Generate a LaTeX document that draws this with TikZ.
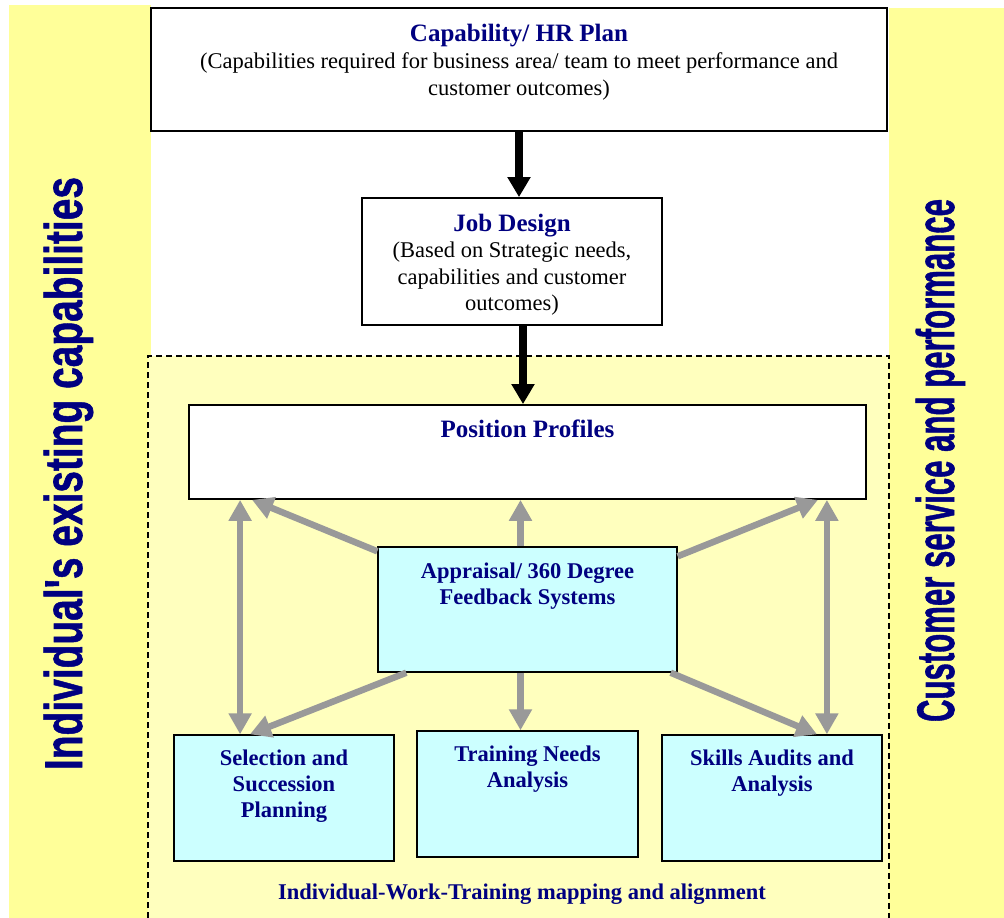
\documentclass[tikz,border=0pt]{standalone}
\usepackage{fontspec}
\setmainfont{Liberation Serif}
\newfontfamily\sidefont{Liberation Sans}[BoldFeatures={FakeBold=1.2}]
\usetikzlibrary{arrows.meta,calc}
\definecolor{hr_navy}{RGB}{0,0,128}
\definecolor{band_yellow}{RGB}{255,255,153}
\definecolor{map_yellow}{RGB}{255,255,190}
\definecolor{sys_cyan}{RGB}{204,255,255}
\definecolor{link_grey}{RGB}{153,153,153}
\tikzstyle{plan}=[rectangle,fill=white,draw=black,line width=1.8pt,inner sep=0pt,
  font=\fontsize{22.5}{27}\selectfont]
\tikzstyle{sys}=[rectangle,fill=sys_cyan,draw=black,line width=1.4pt,inner sep=0pt,
  text=hr_navy,font=\bfseries\fontsize{22.5}{26}\selectfont]
\tikzstyle{flow}=[draw=black,line width=7.5pt,-{Triangle[width=22pt,length=20pt]}]
\tikzstyle{link}=[draw=link_grey,line width=6.5pt,-{Triangle[width=22pt,length=21pt]}]
\tikzstyle{twolink}=[draw=link_grey,line width=6.5pt,
  {Triangle[width=22pt,length=21pt]}-{Triangle[width=22pt,length=21pt]}]
\tikzstyle{side}=[text=hr_navy,font=\sidefont\bfseries\fontsize{53}{58}\selectfont,
  rotate=90,anchor=base,inner sep=0pt]
\tikzstyle{note}=[text=hr_navy,font=\bfseries\fontsize{22.5}{26}\selectfont,
  anchor=base,inner sep=0pt]
\newcommand{\boxtext}[4]{\parbox[c][#1][t]{#2}{\centering\rule{0pt}{#3}#4}}

\begin{document}
\begin{tikzpicture}[x=1pt,y=-1pt]
        \useasboundingbox (0,0) rectangle (1004,918);
        \fill [white] (0,0) rectangle (1004,918);
        % side bands and the mapping area
        \fill [band_yellow] (9,5) rectangle (151,918);
        \fill [band_yellow] (889,8) rectangle (1004,918);
        \fill [map_yellow] (148,356) rectangle (889,918);
        \draw [black,line width=1.2pt,dash pattern=on 6pt off 4pt] (148,918) -- (148,356) -- (889,356) -- (889,918);

        \node [style=plan] (1) at (519,69.5) {\boxtext{123pt}{736pt}{33pt}{{\fontsize{25}{27}\selectfont\bfseries\color{hr_navy}Capability/ HR Plan\par}(Capabilities required for business area/ team to meet performance and\\ customer outcomes)}};
        \node [style=plan] (2) at (512,261.5) {\boxtext{127pt}{300pt}{33pt}{{\fontsize{25}{26}\selectfont\bfseries\color{hr_navy}Job Design\par}\fontsize{22.5}{26.5}\selectfont(Based on Strategic needs,\\ capabilities and customer\\ outcomes)}};
        \node [style=plan] (3) at (527.5,452) {\boxtext{94pt}{677pt}{32pt}{\fontsize{25}{27}\selectfont\bfseries\color{hr_navy}Position Profiles}};
        \node [style=sys] (4) at (527.5,609.5) {\boxtext{125pt}{299pt}{31pt}{Appraisal/ 360 Degree\\ Feedback Systems}};
        \node [style=sys] (5) at (284,798) {\boxtext{126pt}{220pt}{30pt}{Selection and\\ Succession\\ Planning}};
        \node [style=sys] (6) at (527.5,794) {\boxtext{126pt}{221pt}{30pt}{Training Needs\\ Analysis}};
        \node [style=sys] (7) at (772,798) {\boxtext{126pt}{220pt}{30pt}{Skills Audits and\\ Analysis}};
        \node [style=note] (8) at (522,899) {Individual-Work-Training mapping and alignment};
        \node [style=side] (9) at (82,473.5) {\scalebox{0.734}[1]{Individual's existing capabilities}};
        \node [style=side] (10) at (954,460.5) {\scalebox{0.588}[1]{Customer service and performance}};

        \draw [style=flow] (1.south) to (1.south |- 2.north);
        \draw [style=flow] ([xshift=11pt]2.south) to ([xshift=11pt]2.south |- 3.north);

        \draw [style=twolink] ([xshift=52pt]3.south west) to ([xshift=52pt]3.south west |- 5.north);
        \draw [style=twolink] ([xshift=-40pt]3.south east) to ([xshift=-40pt]3.south east |- 7.north);
        \draw [style=link] ([yshift=-5pt]4.north west) to ([xshift=64pt]3.south west);
        \draw [style=link] ([xshift=-7pt]4.north) to ([xshift=-7pt]4.north |- 3.south);
        \draw [style=link] ([yshift=-10pt]4.north east) to ([xshift=-49pt]3.south east);
        \draw [style=link] ([xshift=29pt]4.south west) to ([xshift=-34pt]5.north);
        \draw [style=link] ([xshift=-7pt]4.south) to ([xshift=-7pt]4.south |- 6.north);
        \draw [style=link] ([xshift=-7pt]4.south east) to ([xshift=45pt]7.north);
    \end{tikzpicture}
\end{document}
